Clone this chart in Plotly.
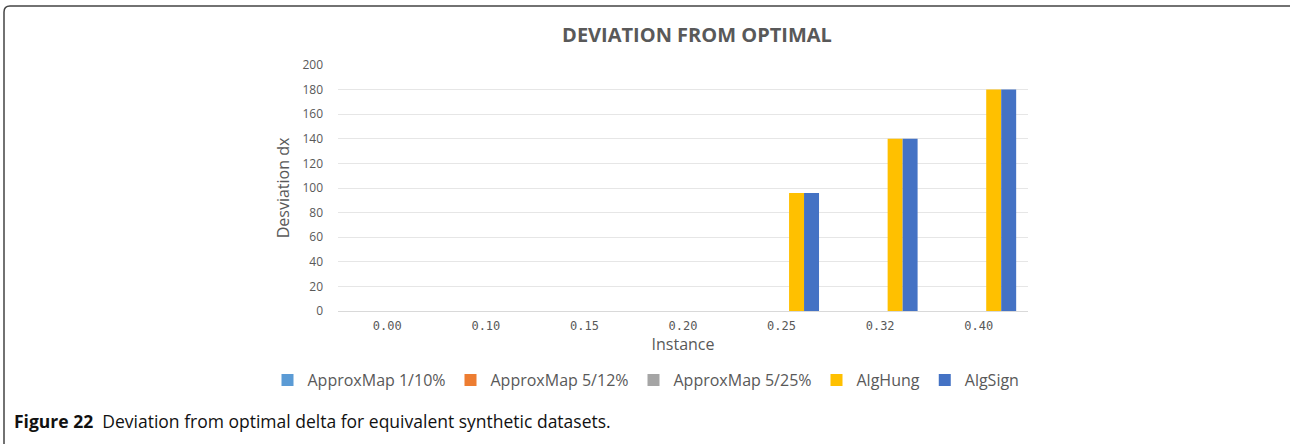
import plotly.graph_objects as go

# Chart data
instances = ["0.00", "0.10", "0.15", "0.20", "0.25", "0.32", "0.40"]
approx_1_10 = [0, 0, 0, 0, 0, 0, 0]
approx_5_12 = [0, 0, 0, 0, 0, 0, 0]
approx_5_25 = [0, 0, 0, 0, 0, 0, 0]
alg_hung = [0, 0, 0, 0, 96, 140, 180]
alg_sign = [0, 0, 0, 0, 96, 140, 180]
y_ticks = [0, 20, 40, 60, 80, 100, 120, 140, 160, 180, 200]

series = [
    ("ApproxMap 1/10%", approx_1_10, "#5B9BD5"),
    ("ApproxMap 5/12%", approx_5_12, "#ED7D31"),
    ("ApproxMap 5/25%", approx_5_25, "#A5A5A5"),
    ("AlgHung", alg_hung, "#FFC000"),
    ("AlgSign", alg_sign, "#4472C4"),
]

W, H = 1291, 444
ML, MR, MT, MB = 20, 20, 65, 133
PW, PH = W - ML - MR, H - MT - MB
PLOT_L, PLOT_R = 338, 1028  # pixel extent of the bar area


def px_x(p):
    return (p - ML) / PW


def px_y(p):
    return (H - MB - p) / PH


fig = go.Figure()
for name, vals, color in series:
    fig.add_trace(go.Bar(x=instances, y=vals, name=name, marker_color=color,
                         marker_line_width=0))

gray = "#595959"
font_family = "Open Sans"
fig.update_layout(
    width=W, height=H,
    margin=dict(l=ML, r=MR, t=MT, b=MB),
    paper_bgcolor="white", plot_bgcolor="white",
    barmode="group", bargap=0.24, bargroupgap=0,
    font=dict(family=font_family, color=gray),
    title=dict(text="<b>DEVIATION FROM OPTIMAL</b>", x=px_x(697), xref="paper",
               xanchor="center", y=1 - 35 / H, yanchor="middle",
               font=dict(size=20, color=gray, family=font_family)),
    xaxis=dict(domain=[px_x(PLOT_L), px_x(PLOT_R)],
               title=dict(text="Instance", font=dict(size=16, color=gray, family=font_family),
                          standoff=6),
               tickfont=dict(size=12, color=gray, family="DejaVu Sans Mono"),
               showgrid=False, showline=False, ticks="", ticklabelstandoff=6),
    yaxis=dict(title=dict(text="Desviation dx", font=dict(size=16, color=gray, family=font_family),
                          standoff=8),
               range=[0, 200], tickvals=y_ticks,
               tickfont=dict(size=12, color=gray),
               showgrid=True, gridcolor="#E6E6E6", gridwidth=1,
               zeroline=True, zerolinecolor="#D9D9D9", zerolinewidth=1,
               showline=False, ticks="", ticklabelstandoff=14),
    legend=dict(orientation="h", x=px_x(646), xanchor="center", y=px_y(380),
                yanchor="middle", font=dict(size=16, color=gray, family=font_family),
                itemwidth=30, tracegroupgap=0),
    showlegend=True,
)

# Caption below the chart
fig.add_annotation(
    text="<b>Figure 22</b>  Deviation from optimal delta for equivalent synthetic datasets.",
    xref="paper", yref="paper", x=px_x(12), y=px_y(421),
    xanchor="left", yanchor="middle", showarrow=False,
    font=dict(size=17.5, color="#111111", family=font_family),
)

# Rounded frame around the figure
x0, y0 = px_x(4), px_y(6)
x1, y1 = px_x(1290), px_y(460)
r = 6 / PW
ry = 6 / PH
fig.add_shape(
    type="path", xref="paper", yref="paper",
    path=(f"M {x0},{y1} L {x0},{y0 - ry} Q {x0},{y0} {x0 + r},{y0} "
          f"L {x1},{y0}"),
    line=dict(color="#444444", width=1.5),
)

fig.write_html("out.html")
